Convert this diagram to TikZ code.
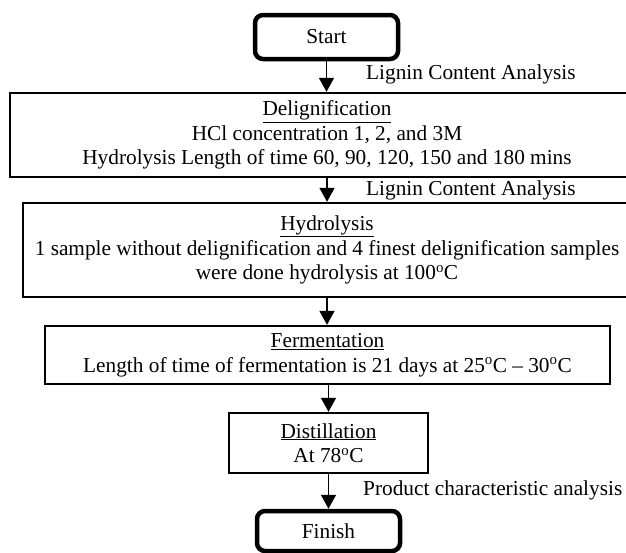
\documentclass[tikz,border=0pt]{standalone}
\usepackage{fontspec}
\setmainfont{Liberation Serif}
\usetikzlibrary{arrows.meta}
\begin{document}
\begin{tikzpicture}[x=1pt,y=-1pt,
  every node/.style={font=\fontsize{21.3}{24.5}\selectfont, inner sep=0pt, align=center},
  proc/.style={draw, line width=2.4pt, rectangle},
  term/.style={draw, line width=4.5pt, rectangle, rounded corners=8pt},
  arr/.style={line width=1.6pt, -{Triangle[length=14pt,width=15pt]}},
  lab/.style={anchor=west}]
\useasboundingbox (0,0) rectangle (626,552);
\clip (0,0) rectangle (626,552);
\node[term, minimum width=143, minimum height=44] (start) at (326.5,37) {Start};
\node[proc, minimum width=634, minimum height=84] (del) at (327,135)
  {\underline{Delignification}\\HCl concentration 1, 2, and 3M\\Hydrolysis Length of time 60, 90, 120, 150 and 180 mins};
\node[proc, minimum width=608, minimum height=94] (hyd) at (327,250)
  {\underline{Hydrolysis}\\1 sample without delignification and 4 finest delignification samples\\were done hydrolysis at 100\textsuperscript{o}C};
\node[proc, minimum width=565, minimum height=58] (fer) at (327.5,355)
  {\underline{Fermentation}\\Length of time of fermentation is 21 days at 25\textsuperscript{o}C -- 30\textsuperscript{o}C};
\node[proc, minimum width=199, minimum height=60] (dis) at (328.5,443)
  {\underline{Distillation}\\At 78\textsuperscript{o}C};
\node[term, minimum width=143, minimum height=40] (fin) at (328.5,531) {Finish};
\node[lab] (l1) at (366,74) {Lignin Content Analysis};
\node[lab] (l2) at (366,190) {Lignin Content Analysis};
\node[lab] (l3) at (363,490) {Product characteristic analysis};
\draw[arr] (start.south) -- (start.south |- del.north);
\draw[arr] (327,177) coordinate (d1) -- (d1 |- hyd.north);
\draw[arr] (327,297) coordinate (h1) -- (h1 |- fer.north);
\draw[arr] (fer.south -| dis.north) -- (dis.north);
\draw[arr] (dis.south) -- (fin.north);
\end{tikzpicture}
\end{document}
